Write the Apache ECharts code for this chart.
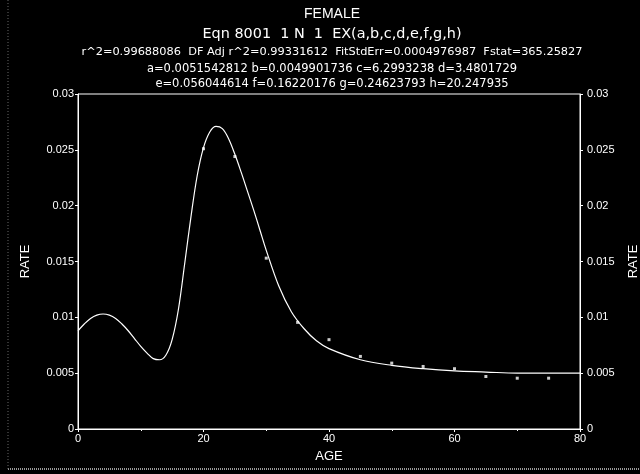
<!DOCTYPE html>
<html>
<head>
<meta charset="utf-8">
<style>
html,body{margin:0;padding:0;background:#000;}
#chart{width:640px;height:474px;}
</style>
<script src="https://cdn.jsdelivr.net/npm/echarts@6/dist/echarts.min.js"></script>
</head>
<body>
<div id="chart"></div>
<script>
// Observed data points (age, rate)
var pointAges  = [20, 25, 30, 35, 40, 45, 50, 55, 60, 65, 70, 75];
var pointRates = [0.0251, 0.0244, 0.0153, 0.00955, 0.0080, 0.0065, 0.0059, 0.0056, 0.0054, 0.0047, 0.00455, 0.00455];

// Fitted curve (age, rate)
var curveAges  = [0,1,2,3,4,5,6,7,8,9,10,11,12,13,14,15,16,17,18,19,20,21,22,23,24,25,26,27,28,29,30,32,34,36,38,40,45,50,55,60,65,70,75,80];
var curveRates = [0.0088,0.0094,0.0099,0.0102,0.0103,0.0102,0.0099,0.0094,0.0088,0.0081,0.0074,0.0068,0.0063,0.0062,0.0066,0.0080,0.0107,0.0148,0.0190,0.0227,0.0252,0.0266,0.0271,0.0269,0.0260,0.0246,0.0230,0.0213,0.0196,0.0178,0.0160,0.0128,0.0105,0.0090,0.0079,0.0072,0.0062,0.0057,0.0054,0.0052,0.0051,0.0050,0.0050,0.0050];

var titleLines = [
  "FEMALE",
  "Eqn 8001  1 N  1  EX(a,b,c,d,e,f,g,h)",
  "r^2=0.99688086  DF Adj r^2=0.99331612  FitStdErr=0.0004976987  Fstat=365.25827",
  "a=0.0051542812 b=0.0049901736 c=6.2993238 d=3.4801729",
  "e=0.056044614 f=0.16220176 g=0.24623793 h=20.247935"
];

var xTicks = [0, 20, 40, 60, 80];
var yTicks = [0, 0.005, 0.01, 0.015, 0.02, 0.025, 0.03];

var ff = "Liberation Sans, Arial, sans-serif";
var ffWide = "DejaVu Sans, sans-serif";
var chart = echarts.init(document.getElementById('chart'));

var pts = pointAges.map(function(a,i){return [a, pointRates[i]];});
var crv = curveAges.map(function(a,i){return [a, curveRates[i]];});

function yAxisDef(pos){
  return {
    type:'value', position:pos, min:yTicks[0], max:yTicks[yTicks.length-1], interval:0.005,
    name:'RATE', nameLocation:'middle', nameGap: pos==='left'?46:47, nameRotate:90,
    nameTextStyle:{color:'#fff', fontSize:13, fontFamily:ff},
    axisLine:{show:true, lineStyle:{color:'#fff', width:1}},
    axisTick:{show:true, inside:false, length:3, lineStyle:{color:'#fff'}},
    axisLabel:{color:'#fff', fontSize:11, fontFamily:ff, margin: pos==='left'?4:7,
      formatter:function(v){return String(Math.round(v*1000)/1000);}},
    splitLine:{show:false}
  };
}

var titleTops = [14, 34, 52, 69, 84];
var titleSizes = [14, 14.4, 11.35, 11.5, 11.5];
var titleGraphics = titleLines.map(function(t,i){
  return {type:'text', x:332, y:titleTops[i],
    style:{text:t, fill:'#fff', fontSize:titleSizes[i], fontFamily: i===0?ff:ffWide,
      textAlign:'center', textVerticalAlign:'middle', align:'center', verticalAlign:'middle'}};
});

chart.setOption({
  backgroundColor:'#000',
  animation:false,
  grid:{left:78, right:60, top:94, bottom:45, show:true, borderColor:'#fff', borderWidth:1,
    outerBoundsMode:'none', containLabel:false},
  xAxis:{
    type:'value', min:0, max:80, interval:20,
    name:'AGE', nameLocation:'middle', nameGap:21,
    nameTextStyle:{color:'#fff', fontSize:13, fontFamily:ff},
    axisLine:{show:true, onZero:false, lineStyle:{color:'#fff'}},
    axisTick:{show:true, length:3, lineStyle:{color:'#fff'}},
    minorTick:{show:true, splitNumber:2, length:2, lineStyle:{color:'#fff'}},
    axisLabel:{color:'#fff', fontSize:11, fontFamily:ff, margin:4},
    splitLine:{show:false}
  },
  yAxis:[yAxisDef('left'), yAxisDef('right')],
  series:[
    {type:'line', data:crv, smooth:0.35, showSymbol:false, symbol:'none',
      lineStyle:{color:'#fff', width:1.2}, z:2},
    {type:'scatter', data:pts, symbol:'rect', symbolSize:3,
      itemStyle:{color:'#fff'}, z:3}
  ],
  graphic: titleGraphics.concat([
    {type:'line', shape:{x1:8,y1:469,x2:640,y2:469}, style:{stroke:'#999', lineWidth:2, lineDash:[1,1]}},
    {type:'line', shape:{x1:8,y1:0,x2:8,y2:469}, style:{stroke:'#666', lineWidth:1, lineDash:[1,2]}}
  ])
});
</script>
</body>
</html>
